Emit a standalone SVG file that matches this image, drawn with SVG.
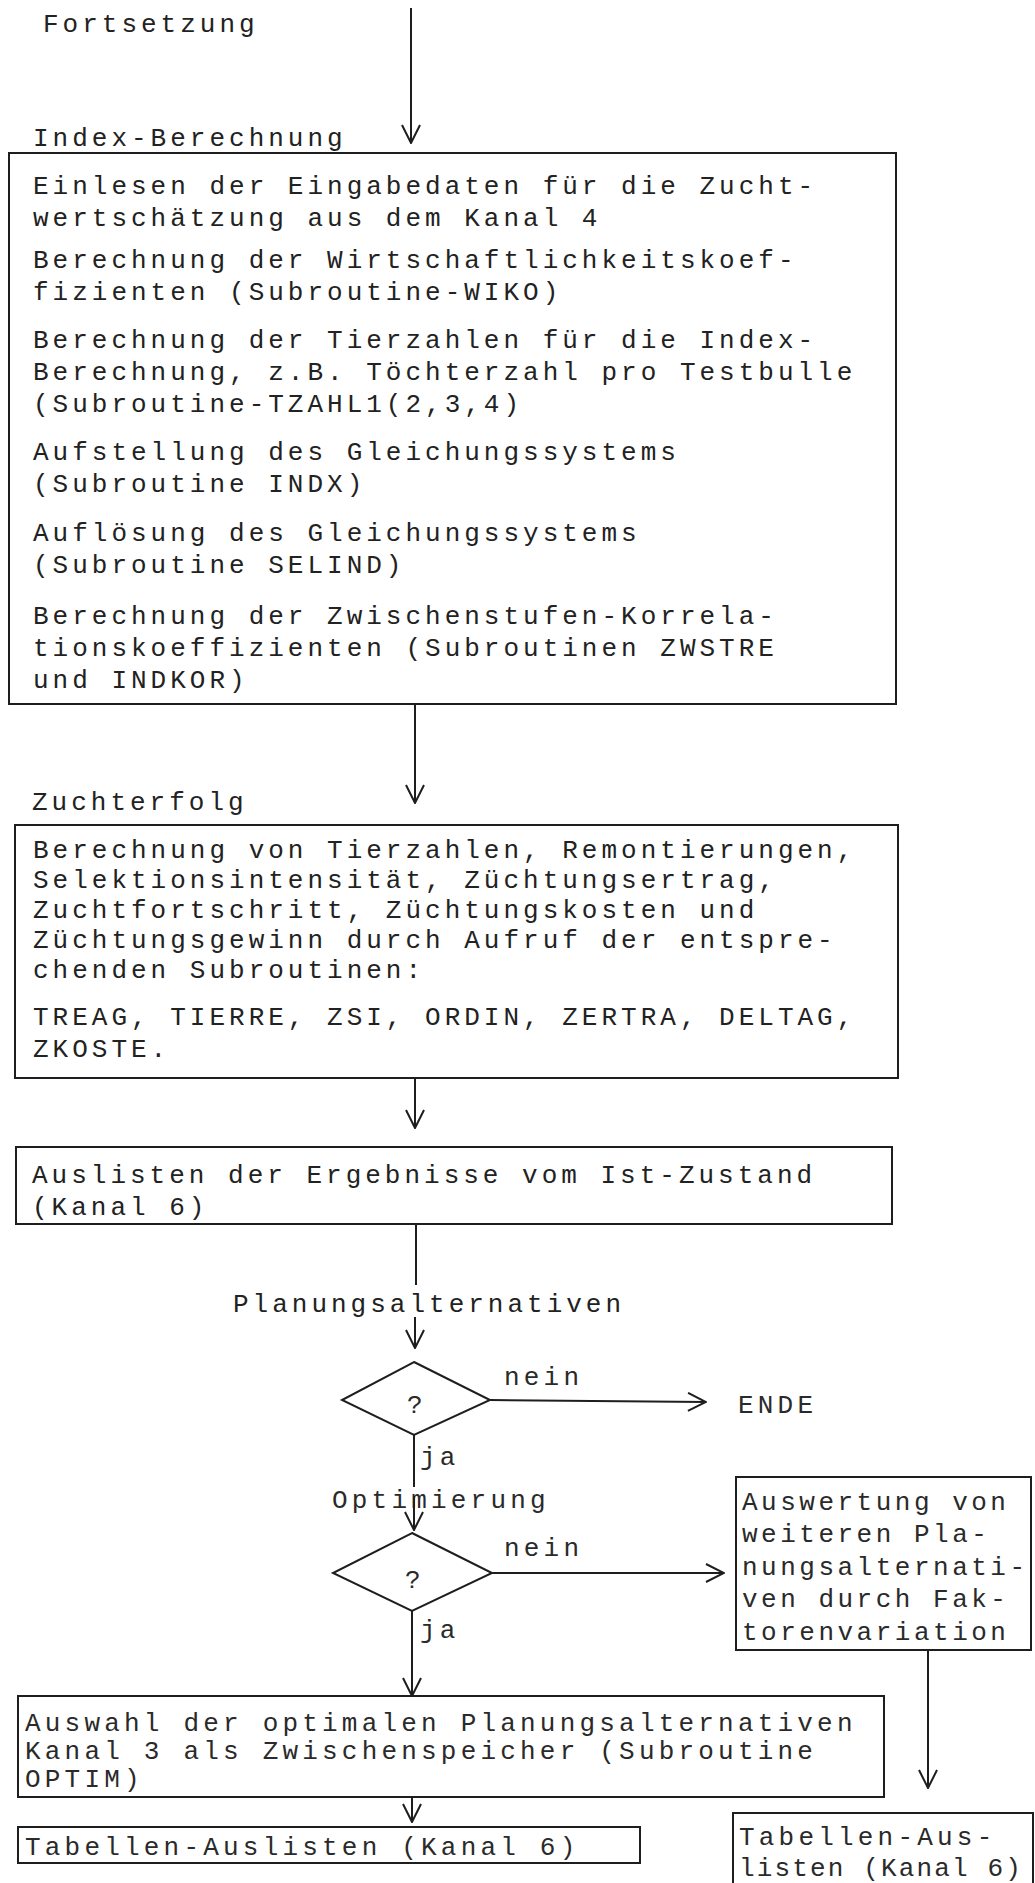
<svg xmlns="http://www.w3.org/2000/svg" width="1035" height="1883" viewBox="0 0 1035 1883">
<defs>
<style>
.t{font-family:"Liberation Mono","DejaVu Sans Mono",monospace;font-size:26px;letter-spacing:4px;fill:#222222}
.u{font-family:"Liberation Mono","DejaVu Sans Mono",monospace;font-size:26px;letter-spacing:4.2px;fill:#2a2a2a}
.r{font-family:"Liberation Mono","DejaVu Sans Mono",monospace;font-size:26px;letter-spacing:3.5px;fill:#2a2a2a}
.b{fill:none;stroke:#1e1e1e;stroke-width:2}
.c{fill:none;stroke:#1e1e1e;stroke-width:2}
</style>
<marker id="ah" viewBox="0 0 20 20" refX="19" refY="10" markerWidth="20" markerHeight="20" markerUnits="userSpaceOnUse" orient="auto">
<path d="M1,1 L19,10 L1,19" fill="none" stroke="#1e1e1e" stroke-width="2"/>
</marker>
</defs>
<rect width="1035" height="1883" fill="#ffffff"/>

<g id="label-fortsetzung"><text class="t" x="43" y="32">Fortsetzung</text></g>

<g id="box-index">
<text class="t" x="33" y="146">Index-Berechnung</text>
<rect class="b" x="9" y="153" width="887" height="551"/>
<text class="t" x="33" y="194">Einlesen der Eingabedaten für die Zucht-</text>
<text class="t" x="33" y="226">wertschätzung aus dem Kanal 4</text>
<text class="t" x="33" y="268">Berechnung der Wirtschaftlichkeitskoef-</text>
<text class="t" x="33" y="300">fizienten (Subroutine-WIKO)</text>
<text class="t" x="33" y="348">Berechnung der Tierzahlen für die Index-</text>
<text class="t" x="33" y="380">Berechnung, z.B. Töchterzahl pro Testbulle</text>
<text class="t" x="33" y="412">(Subroutine-TZAHL1(2,3,4)</text>
<text class="t" x="33" y="460">Aufstellung des Gleichungssystems</text>
<text class="t" x="33" y="492">(Subroutine INDX)</text>
<text class="t" x="33" y="541">Auflösung des Gleichungssystems</text>
<text class="t" x="33" y="573">(Subroutine SELIND)</text>
<text class="t" x="33" y="624">Berechnung der Zwischenstufen-Korrela-</text>
<text class="t" x="33" y="656">tionskoeffizienten (Subroutinen ZWSTRE</text>
<text class="t" x="33" y="688">und INDKOR)</text>
</g>

<g id="box-zuchterfolg">
<text class="t" x="32" y="810">Zuchterfolg</text>
<rect class="b" x="15" y="825" width="883" height="253"/>
<text class="t" x="33" y="858">Berechnung von Tierzahlen, Remontierungen,</text>
<text class="t" x="33" y="888">Selektionsintensität, Züchtungsertrag,</text>
<text class="t" x="33" y="918">Zuchtfortschritt, Züchtungskosten und</text>
<text class="t" x="33" y="948">Züchtungsgewinn durch Aufruf der entspre-</text>
<text class="t" x="33" y="978">chenden Subroutinen:</text>
<text class="t" x="33" y="1025">TREAG, TIERRE, ZSI, ORDIN, ZERTRA, DELTAG,</text>
<text class="t" x="33" y="1057">ZKOSTE.</text>
</g>

<g id="box-auslisten">
<rect class="b" x="16" y="1147" width="876" height="77"/>
<text class="t" x="32" y="1183">Auslisten der Ergebnisse vom Ist-Zustand</text>
<text class="t" x="32" y="1215">(Kanal 6)</text>
</g>

<g id="label-planung"><text class="t" x="233" y="1312">Planungsalternativen</text></g>

<g id="decision-1">
<polygon class="b" points="414,1362 490,1400 414,1435 342,1400"/>
<text class="u" x="407" y="1413">?</text>
</g>

<g id="label-ende"><text class="u" x="738" y="1413">ENDE</text></g>

<g id="label-optimierung"><text class="u" x="332" y="1508">Optimierung</text></g>

<g id="decision-2">
<polygon class="b" points="412,1533 492,1573 412,1611 333,1573"/>
<text class="u" x="405" y="1588">?</text>
</g>

<g id="box-auswertung">
<rect class="b" x="736" y="1477" width="295" height="173"/>
<text class="r" x="742" y="1510">Auswertung von</text>
<text class="r" x="742" y="1542">weiteren Pla-</text>
<text class="r" x="742" y="1575">nungsalternati-</text>
<text class="r" x="742" y="1607">ven durch Fak-</text>
<text class="r" x="742" y="1640">torenvariation</text>
</g>

<g id="box-auswahl">
<rect class="b" x="18" y="1696" width="866" height="101"/>
<text class="u" x="25" y="1731">Auswahl der optimalen Planungsalternativen</text>
<text class="u" x="25" y="1759">Kanal 3 als Zwischenspeicher (Subroutine</text>
<text class="u" x="25" y="1787">OPTIM)</text>
</g>

<g id="box-tabellen-1">
<rect class="b" x="18" y="1827" width="622" height="36"/>
<text class="u" x="25" y="1855">Tabellen-Auslisten (Kanal 6)</text>
</g>

<g id="box-tabellen-2">
<rect class="b" x="733" y="1813" width="300" height="85"/>
<text class="u" x="739" y="1845">Tabellen-Aus-</text>
<text class="u" x="739" y="1876" textLength="286" lengthAdjust="spacing">listen (Kanal 6)</text>
</g>

<g id="connectors">
<line class="c" x1="411" y1="8" x2="411" y2="143" marker-end="url(#ah)"/>
<line class="c" x1="415" y1="704" x2="415" y2="803" marker-end="url(#ah)"/>
<line class="c" x1="415" y1="1078" x2="415" y2="1128" marker-end="url(#ah)"/>
<line class="c" x1="416" y1="1224" x2="416" y2="1285"/>
<line class="c" x1="415" y1="1317" x2="415" y2="1348" marker-end="url(#ah)"/>
<line class="c" x1="490" y1="1400" x2="706" y2="1402" marker-end="url(#ah)"/>
<text class="u" x="504" y="1385">nein</text>
<line class="c" x1="414" y1="1435" x2="414" y2="1487"/>
<text class="u" x="420" y="1465">ja</text>
<line class="c" x1="414" y1="1496" x2="414" y2="1530" marker-end="url(#ah)"/>
<line class="c" x1="492" y1="1573" x2="724" y2="1573" marker-end="url(#ah)"/>
<text class="u" x="504" y="1556">nein</text>
<line class="c" x1="412" y1="1611" x2="412" y2="1696" marker-end="url(#ah)"/>
<text class="u" x="420" y="1638">ja</text>
<line class="c" x1="928" y1="1650" x2="928" y2="1788" marker-end="url(#ah)"/>
<line class="c" x1="412" y1="1797" x2="412" y2="1822" marker-end="url(#ah)"/>
</g>
</svg>
